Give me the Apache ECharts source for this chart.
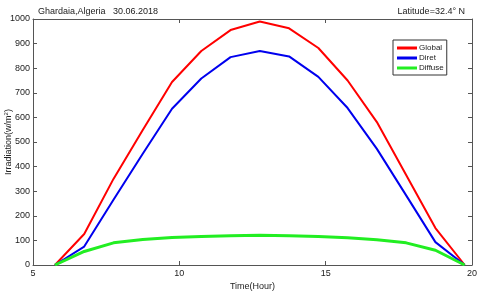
<!DOCTYPE html>
<html><head><meta charset="utf-8">
<script src="https://cdn.jsdelivr.net/npm/echarts@6/dist/echarts.min.js"></script>
<style>html,body{margin:0;padding:0;background:#fff}#c{width:480px;height:292px}</style>
</head><body><div id="c"></div>
<script>
const hours = [5.75, 6.75, 7.75, 8.75, 9.75, 10.75, 11.75, 12.75, 13.75, 14.75, 15.75, 16.75, 17.75, 18.75, 19.75];
const globalVals = [0, 126, 350, 549, 744, 870, 955, 990, 962, 882, 750, 581, 366, 150, 0];
const diretVals = [0, 75, 265, 452, 635, 758, 845, 870, 848, 765, 638, 472, 283, 93, 0];
const diffuseVals = [0, 55, 90, 104, 112, 116, 119, 121, 119, 116, 111, 103, 90, 60, 0];
const xTicks = [5, 10, 15, 20];
const yTicks = [0, 100, 200, 300, 400, 500, 600, 700, 800, 900, 1000];

const pairs = v => hours.map((h, i) => [h, v[i]]);
const font = 'Liberation Sans, Arial, sans-serif';
const axisCol = '#555';
const txt = '#222';
const chart = echarts.init(document.getElementById('c'), null, {renderer: 'canvas'});
const frameAxis = {
  axisLine: {show: true, onZero: false, lineStyle: {color: axisCol, width: 1}},
  axisTick: {show: true, inside: true, length: 4, lineStyle: {color: axisCol}},
  splitLine: {show: false}
};
chart.setOption({
  animation: false,
  backgroundColor: '#fff',
  textStyle: {fontFamily: font},
  title: [
    {text: 'Ghardaia,Algeria   30.06.2018', left: 33, top: 2, textStyle: {fontSize: 9, fontWeight: 'normal', color: txt, fontFamily: font}},
    {text: 'Latitude=32.4° N', right: 10, top: 2, textStyle: {fontSize: 9, fontWeight: 'normal', color: txt, fontFamily: font}}
  ],
  grid: {left: 33, right: 8, top: 19, bottom: 27, containLabel: false, outerBoundsMode: 'none'},
  legend: {
    left: 393, top: 40, orient: 'vertical',
    backgroundColor: '#fff', borderColor: '#333', borderWidth: 1,
    padding: [4, 3, 3, 4], itemGap: 2, itemWidth: 20, itemHeight: 3,
    icon: 'rect',
    textStyle: {fontSize: 8, color: txt, fontFamily: font, padding: [0, 0, 0, -3]},
    data: ['Global', 'Diret', 'Diffuse']
  },
  xAxis: [
    Object.assign({type: 'value', position: 'bottom', min: 5, max: 20, interval: 5,
      name: 'Time(Hour)', nameLocation: 'middle', nameGap: 17, nameMoveOverlap: false,
      nameTextStyle: {fontSize: 9, color: txt, fontFamily: font},
      axisLabel: {fontSize: 9, color: txt, margin: 4, fontFamily: font, customValues: xTicks, formatter: v => String(v)}}, frameAxis),
    Object.assign({type: 'value', position: 'top', min: 5, max: 20, interval: 5, axisLabel: {show: false}}, frameAxis)
  ],
  yAxis: [
    Object.assign({type: 'value', position: 'left', min: 0, max: 1000, interval: 100,
      name: 'Irradiation(w/m{s|2})', nameLocation: 'middle', nameGap: 19, nameRotate: 90, nameMoveOverlap: false,
      nameTextStyle: {fontSize: 9, color: txt, fontFamily: font, rich: {s: {fontSize: 6, verticalAlign: 'top', color: txt, padding: [0, 0, 5, 0]}}},
      axisLabel: {fontSize: 9, color: txt, margin: 3, fontFamily: font, customValues: yTicks, formatter: v => String(v)}}, frameAxis),
    Object.assign({type: 'value', position: 'right', min: 0, max: 1000, interval: 100, axisLabel: {show: false}}, frameAxis)
  ],
  series: [
    {name: 'Global', type: 'line', data: pairs(globalVals), symbol: 'none', color: '#ff0000', lineStyle: {width: 2, color: '#ff0000'}},
    {name: 'Diret', type: 'line', data: pairs(diretVals), symbol: 'none', color: '#0000ee', lineStyle: {width: 2, color: '#0000ee'}},
    {name: 'Diffuse', type: 'line', data: pairs(diffuseVals), symbol: 'none', color: '#22ee22', lineStyle: {width: 3, color: '#22ee22'}}
  ]
});
</script></body></html>
